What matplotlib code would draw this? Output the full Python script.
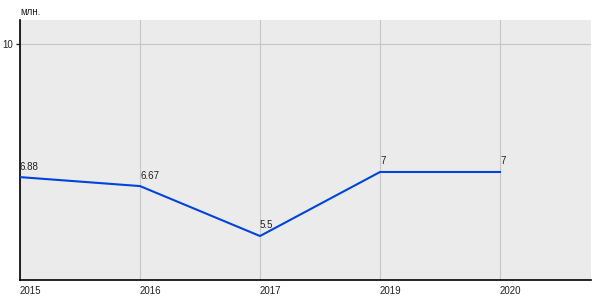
import matplotlib.pyplot as plt

plt.rcParams['font.family'] = ['Liberation Sans', 'DejaVu Sans']

years = ["2015", "2016", "2017", "2019", "2020"]
values = [6.88, 6.67, 5.5, 7, 7]
labels = ["6.88", "6.67", "5.5", "7", "7"]

fig = plt.figure(figsize=(6, 3), dpi=100)
ax = fig.add_axes([20 / 600, 20 / 300, 571 / 600, 260 / 300])
ax.set_facecolor("#ebebeb")

x = list(range(len(years)))
ax.plot(x, values, color="#0044dd", lw=1.5, zorder=3)
for xi, v, t in zip(x, values, labels):
    ax.annotate(t, (xi, v), xytext=(0, 4), textcoords="offset points",
                fontsize=7, ha="left", va="bottom", color="#222222", zorder=4)

ax.set_xlim(0, 4.758)
ax.set_ylim(4.47, 10.56)
ax.set_xticks(x)
ax.set_xticklabels(years, ha="left")
ax.set_yticks([10])
ax.set_yticklabels(["10"])
ax.tick_params(axis="x", length=0, pad=4, labelsize=7, colors="#222222")
ax.tick_params(axis="y", length=3, width=1, pad=2, labelsize=7, colors="#222222")
ax.grid(True, color="#c6c6c6", lw=0.8)
ax.set_axisbelow(True)
for s in ["top", "right"]:
    ax.spines[s].set_visible(False)
for s in ["left", "bottom"]:
    ax.spines[s].set_color("black")
    ax.spines[s].set_linewidth(1.2)

fig.text(20 / 600, 1 - 12 / 300, "млн.", fontsize=7, ha="left", va="center", color="#222222")

fig.savefig("out.png", dpi=100)
